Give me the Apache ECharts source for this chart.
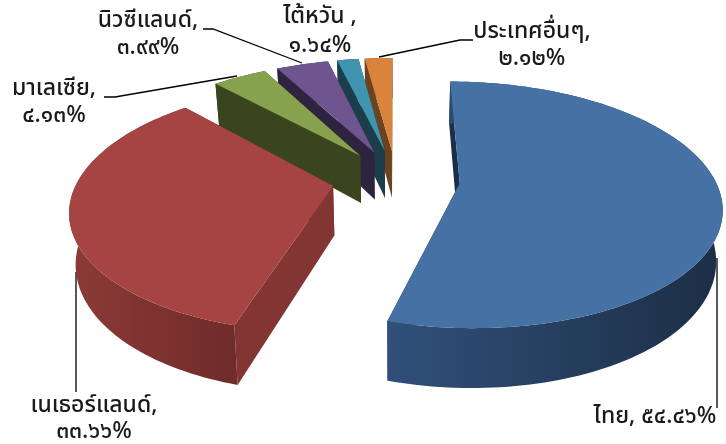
<!DOCTYPE html>
<html>
<head>
<meta charset="utf-8">
<style>html,body{margin:0;padding:0;background:#fff}#c{width:726px;height:444px}</style>
<script src="https://cdn.jsdelivr.net/npm/echarts@6/dist/echarts.min.js"></script>
</head>
<body>
<div id="c"></div>
<script>
// ---- data (clockwise from 12 o'clock) ----
var countries = ['ไทย', 'เนเธอร์แลนด์', 'มาเลเซีย', 'นิวซีแลนด์', 'ไต้หวัน ', 'ประเทศอื่นๆ'];
var shares = [54.46, 33.66, 4.13, 3.99, 1.64, 2.12];

// ---- styles ----
var topColors = ['#4571a5', '#a54442', '#87a24c', '#6f5590', '#3f95af', '#d9833c'];
var wallLeft = ['#30507a', '#8c3a37', '#3a441e', '#2e2440', '#1c3d4a', '#6b431f'];
var wallRight = ['#1c2e45', '#6f2c2a', '#3a441e', '#2e2440', '#1c3d4a', '#6b431f'];
var edgeWall = ['#1b2f47', '#823533', '#3a441e', '#2e2440', '#1c3d4a', '#6b431f'];

// ---- projection layout ----
var CX = 396, CY = 179, R = 255, RT = 118, K = 0.175, EXPLODE = 0.251, DEPTH = 49, SHRINK = 0.98;

// ---- label layout ----
var labelLayout = [
  {x: 655, y: [418]},
  {x: 94, y: [407, 433]},
  {x: 54, y: [90, 117]},
  {x: 148, y: [22, 49]},
  {x: 320, y: [18, 47]},
  {x: 532, y: [33, 60]}
];
var leaderLines = [
  [[717, 258], [717, 408]],
  [[76, 272], [76, 392]],
  [[104, 97], [115, 97], [237, 76]],
  [[203, 29], [213, 29], [302, 63]],
  null,
  [[379, 57], [460, 40], [473, 40]]
];

var THAI = '๐๑๒๓๔๕๖๗๘๙';
function thaiNum(v) {
  return v.toFixed(2).replace(/\d/g, function (d) { return THAI[+d]; }) + '%';
}
function project(X, Z) {
  var p = 1 / (1 - K * Z);
  return [CX + R * X * p, CY + RT * Z * p, p];
}
function lower(pt) {
  return [CX + (pt[0] - CX) * SHRINK, pt[1] + DEPTH * pt[2]];
}
var total = shares.reduce(function (a, b) { return a + b; }, 0);

function renderSlice(params, api) {
  var idx = api.value(1), val = api.value(0);
  var before = 0;
  for (var i = 0; i < idx; i++) before += shares[i];
  var a0 = before / total * Math.PI * 2;
  var a1 = (before + val) / total * Math.PI * 2;
  var mid = (a0 + a1) / 2;
  var ox = EXPLODE * Math.sin(mid), oz = -EXPLODE * Math.cos(mid);
  var apex = project(ox, oz);
  var n = Math.max(6, Math.ceil((a1 - a0) * 40));
  var rim = [];
  for (var j = 0; j <= n; j++) {
    var a = a0 + (a1 - a0) * j / n;
    rim.push(project(ox + Math.sin(a), oz - Math.cos(a)));
  }
  var rimLow = rim.map(lower).reverse();
  var apexLow = lower(apex);
  var first = rim[0], last = rim[n];
  var xy = function (p) { return [p[0], p[1]]; };
  function poly(points, fill) {
    return {type: 'polygon', shape: {points: points}, style: {fill: fill, stroke: null}, silent: true};
  }
  return {
    type: 'group',
    children: [
      poly([xy(apex), xy(first), xy(lower(first)), xy(apexLow)], edgeWall[idx]),
      poly([xy(apex), xy(last), xy(lower(last)), xy(apexLow)], edgeWall[idx]),
      poly(rim.map(xy).concat(rimLow.map(xy)), new echarts.graphic.LinearGradient(0, 0, 1, 0, [
        {offset: 0, color: wallLeft[idx]},
        {offset: 1, color: wallRight[idx]}
      ])),
      poly([xy(apex)].concat(rim.map(xy)), topColors[idx])
    ]
  };
}

var textFont = '"Noto Sans Thai","Noto Sans","DejaVu Sans",sans-serif';
var graphics = [];
leaderLines.forEach(function (pts) {
  if (pts) graphics.push({type: 'polyline', shape: {points: pts}, style: {stroke: '#000', lineWidth: 1.3, fill: null}, silent: true});
});
countries.forEach(function (name, i) {
  var lay = labelLayout[i], num = thaiNum(shares[i]);
  var lines = lay.y.length === 1 ? [name + ', ' + num] : [name + ',', num];
  lines.forEach(function (t, k) {
    graphics.push({
      type: 'text', x: lay.x, y: lay.y[k], silent: true,
      style: {text: t, fill: '#1a1a1a', font: '500 23px ' + textFont, align: 'center', verticalAlign: 'middle'}
    });
  });
});

var chart = echarts.init(document.getElementById('c'), null, {renderer: 'canvas'});
chart.setOption({
  animation: false,
  backgroundColor: '#ffffff',
  graphic: graphics,
  series: [{
    type: 'custom',
    coordinateSystem: 'none',
    renderItem: renderSlice,
    silent: true,
    // drawn back to front: the last slices clockwise sit furthest back
    data: shares.map(function (v, i) { return [v, i]; }).reverse()
  }]
});
</script>
</body>
</html>
